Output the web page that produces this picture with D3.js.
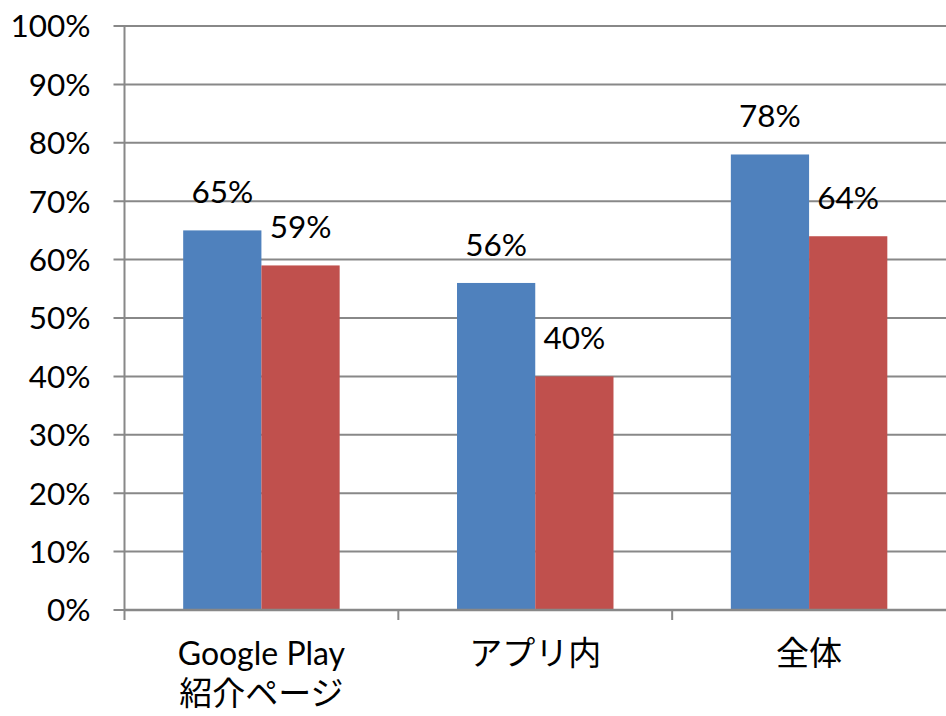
<!DOCTYPE html>
<html>
<head>
<meta charset="utf-8">
<script src="https://cdn.jsdelivr.net/npm/d3@7"></script>
<style>
  body { margin: 0; background: #fff; }
  text { font-family: Lato, "Noto Sans CJK JP", sans-serif; fill: #000; }
</style>
</head>
<body>
<div id="chart"></div>
<script>
const categories = [["Google Play", "紹介ページ"], ["アプリ内"], ["全体"]];
const seriesA = [0.65, 0.56, 0.78];
const seriesB = [0.59, 0.40, 0.64];
const yTicks = [0, 0.1, 0.2, 0.3, 0.4, 0.5, 0.6, 0.7, 0.8, 0.9, 1.0];
const colors = ["#4F81BD", "#C0504D"];

const width = 946;
const height = 716;
const margin = { top: 26, right: 0, bottom: 106, left: 124.5 };
const chartWidth = width - margin.left - margin.right;
const chartHeight = height - margin.top - margin.bottom;

const svg = d3.select("#chart")
  .append("svg")
  .attr("width", width)
  .attr("height", height)
  .append("g")
  .attr("transform", `translate(${margin.left}, ${margin.top})`);

const x = d3.scaleBand().domain(d3.range(categories.length)).range([0, chartWidth]);
const inner = d3.scaleBand().domain([0, 1]).range([0, x.bandwidth()]).paddingOuter(0.75);
const y = d3.scaleLinear().domain([0, 1]).range([chartHeight, 0]);

// gridlines + left ticks
svg.append("g")
  .selectAll("line")
  .data(yTicks)
  .enter()
  .append("line")
  .attr("x1", -11)
  .attr("x2", chartWidth)
  .attr("y1", (d) => y(d))
  .attr("y2", (d) => y(d))
  .attr("stroke", "#888")
  .attr("stroke-width", 2);

// y labels
svg.append("g")
  .selectAll("text")
  .data(yTicks)
  .enter()
  .append("text")
  .attr("x", -34)
  .attr("y", (d) => y(d))
  .attr("dy", "0.36em")
  .attr("text-anchor", "end")
  .style("font-size", "31.5px")
  .text((d) => Math.round(d * 100) + "%");

// bars
const rows = [seriesA, seriesB];
rows.forEach((vals, s) => {
  svg.append("g")
    .selectAll("rect")
    .data(vals)
    .enter()
    .append("rect")
    .attr("x", (d, i) => x(i) + inner(s))
    .attr("y", (d) => y(d))
    .attr("width", inner.bandwidth())
    .attr("height", (d) => chartHeight - y(d))
    .attr("fill", colors[s]);

  svg.append("g")
    .selectAll("text")
    .data(vals)
    .enter()
    .append("text")
    .attr("x", (d, i) => x(i) + inner(s) + inner.bandwidth() / 2)
    .attr("y", (d) => y(d) - 27)
    .attr("text-anchor", "middle")
    .style("font-size", "31.5px")
    .text((d) => Math.round(d * 100) + "%");
});

// axes lines
svg.append("line")
  .attr("x1", 0).attr("x2", 0)
  .attr("y1", 0).attr("y2", chartHeight + 10)
  .attr("stroke", "#888").attr("stroke-width", 2);
svg.append("line")
  .attr("x1", 0).attr("x2", chartWidth)
  .attr("y1", chartHeight).attr("y2", chartHeight)
  .attr("stroke", "#888").attr("stroke-width", 2.5);

// bottom ticks at category boundaries
svg.append("g")
  .selectAll("line")
  .data(d3.range(1, categories.length))
  .enter()
  .append("line")
  .attr("x1", (d) => x(d))
  .attr("x2", (d) => x(d))
  .attr("y1", chartHeight)
  .attr("y2", chartHeight + 10)
  .attr("stroke", "#888")
  .attr("stroke-width", 2);

// category labels
const labels = svg.append("g")
  .selectAll("text")
  .data(categories)
  .enter()
  .append("text")
  .attr("text-anchor", "middle")
  .attr("transform", (d, i) => `translate(${x(i) + x.bandwidth() / 2}, ${chartHeight + 55})`);

labels.selectAll("tspan")
  .data((d) => d)
  .enter()
  .append("tspan")
  .attr("x", 0)
  .attr("y", (d, i) => i * 40)
  .style("font-size", (d) => (/^[\x00-\x7f]+$/.test(d) ? "32px" : "33px"))
  .text((d) => d);
</script>
</body>
</html>
